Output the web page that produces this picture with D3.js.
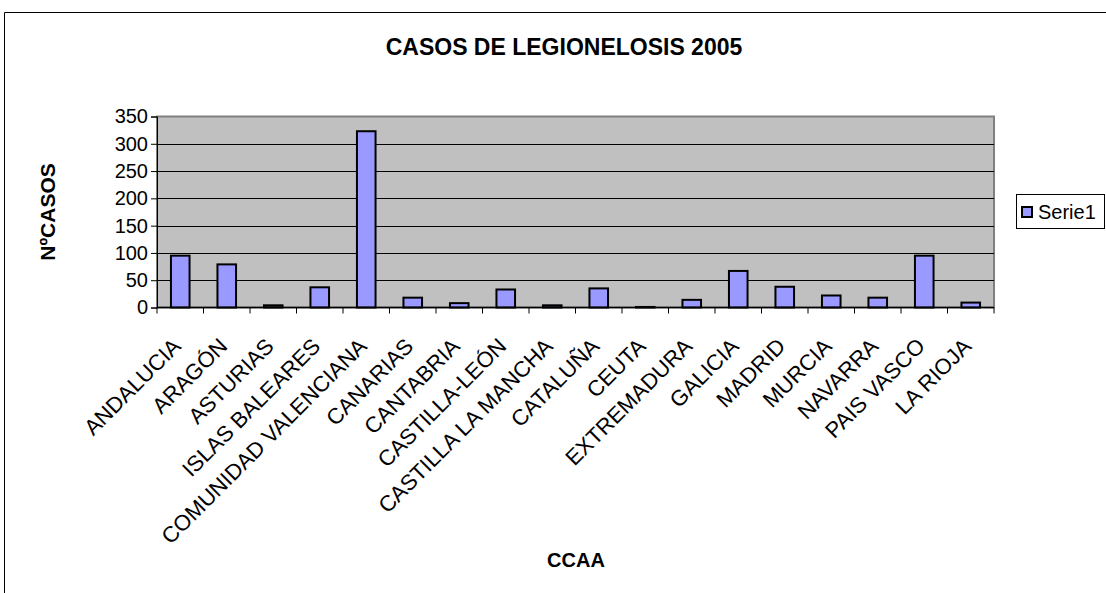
<!DOCTYPE html>
<html>
<head>
<meta charset="utf-8">
<script src="https://cdn.jsdelivr.net/npm/d3@7"></script>
<style>
  body { margin: 0; background: #fff; }
  svg { display: block; font-family: Arial, "Liberation Sans", sans-serif; }
</style>
</head>
<body>
<svg width="1106" height="593"></svg>
<script>
const regiones = ["ANDALUCIA", "ARAGÓN", "ASTURIAS", "ISLAS BALEARES", "COMUNIDAD VALENCIANA",
  "CANARIAS", "CANTABRIA", "CASTILLA-LEÓN", "CASTILLA LA MANCHA", "CATALUÑA", "CEUTA",
  "EXTREMADURA", "GALICIA", "MADRID", "MURCIA", "NAVARRA", "PAIS VASCO", "LA RIOJA"];
const casos = [95, 79, 4, 37, 323, 18, 8, 33, 4, 35, 1, 14, 67, 38, 22, 18, 95, 9];
const yTicks = [0, 50, 100, 150, 200, 250, 300, 350];
const titulo = "CASOS DE LEGIONELOSIS 2005";
const serie = "Serie1";

const svg = d3.select("svg");

const colors = {
  plotBg: "#C0C0C0",
  plotBorder: "#808080",
  bar: "#9999FF",
  ink: "#000"
};

const margin = {left: 157, right: 994, top: 116.5, bottom: 307.5};

// marco exterior del grafico
svg.append("path")
  .attr("d", "M4.5,593 V12.5 H1106")
  .attr("fill", "none")
  .attr("stroke", colors.ink)
  .attr("stroke-width", 1);

const x = d3.scaleBand()
  .domain(regiones)
  .range([margin.left, margin.right])
  .paddingInner(0.6)
  .paddingOuter(0.3);

const y = d3.scaleLinear()
  .domain([0, 350])
  .range([margin.bottom, margin.top]);

// area de trazado
svg.append("rect")
  .attr("x", margin.left)
  .attr("y", margin.top)
  .attr("width", margin.right - margin.left)
  .attr("height", margin.bottom - margin.top)
  .attr("fill", colors.plotBg)
  .attr("stroke", colors.plotBorder)
  .attr("stroke-width", 2);

// lineas de division
svg.append("g").selectAll("line")
  .data(yTicks.filter(d => d > 0 && d < 350)).enter().append("line")
  .attr("x1", margin.left)
  .attr("x2", margin.right)
  .attr("y1", d => Math.round(y(d)) + 0.5)
  .attr("y2", d => Math.round(y(d)) + 0.5)
  .attr("stroke", colors.ink)
  .attr("stroke-width", 1);

// barras
svg.append("g").selectAll("rect")
  .data(casos).enter().append("rect")
  .attr("x", (d, i) => x(regiones[i]))
  .attr("y", d => y(d))
  .attr("width", x.bandwidth())
  .attr("height", d => y(0) - y(d))
  .attr("fill", colors.bar)
  .attr("stroke", colors.ink)
  .attr("stroke-width", 2);

// eje Y
const yAxis = svg.append("g")
  .attr("transform", `translate(${margin.left},0)`)
  .call(d3.axisLeft(y).tickValues(yTicks).tickSize(6).tickPadding(3));
yAxis.select(".domain").attr("stroke", colors.ink);
yAxis.selectAll("text")
  .attr("font-size", 20)
  .attr("font-family", "Arial, 'Liberation Sans', sans-serif")
  .attr("fill", colors.ink);

// eje X: marcas entre categorias
const xAxis = svg.append("g");
xAxis.append("line")
  .attr("x1", margin.left).attr("x2", margin.right)
  .attr("y1", margin.bottom).attr("y2", margin.bottom)
  .attr("stroke", colors.ink).attr("stroke-width", 1.5);
xAxis.selectAll(".tick")
  .data(d3.range(regiones.length + 1)).enter().append("line")
  .attr("class", "tick")
  .attr("x1", i => margin.left + x.step() * i)
  .attr("x2", i => margin.left + x.step() * i)
  .attr("y1", margin.bottom)
  .attr("y2", margin.bottom + 6)
  .attr("stroke", colors.ink);

xAxis.selectAll("text")
  .data(regiones).enter().append("text")
  .attr("transform", d => `translate(${x(d) + x.bandwidth() / 2 + 2},${margin.bottom + 40}) rotate(-45)`)
  .attr("text-anchor", "end")
  .attr("font-size", 22)
  .attr("fill", colors.ink)
  .text(d => d);

// titulos
svg.append("text")
  .attr("x", 564).attr("y", 55)
  .attr("text-anchor", "middle")
  .attr("font-size", 23)
  .attr("font-weight", "bold")
  .text(titulo);

svg.append("text")
  .attr("x", 576).attr("y", 567)
  .attr("text-anchor", "middle")
  .attr("font-size", 20)
  .attr("font-weight", "bold")
  .text("CCAA");

svg.append("text")
  .attr("transform", "translate(55,212) rotate(-90)")
  .attr("text-anchor", "middle")
  .attr("font-size", 21)
  .attr("font-weight", "bold")
  .text("NºCASOS");

// leyenda
const legend = svg.append("g");
legend.append("rect")
  .attr("x", 1016.5).attr("y", 194.5)
  .attr("width", 88).attr("height", 34)
  .attr("fill", "#fff")
  .attr("stroke", colors.ink);
legend.append("rect")
  .attr("x", 1022).attr("y", 207)
  .attr("width", 10).attr("height", 10)
  .attr("fill", colors.bar)
  .attr("stroke", colors.ink)
  .attr("stroke-width", 2);
legend.append("text")
  .attr("x", 1038).attr("y", 219)
  .attr("font-size", 20)
  .text(serie);
</script>
</body>
</html>
